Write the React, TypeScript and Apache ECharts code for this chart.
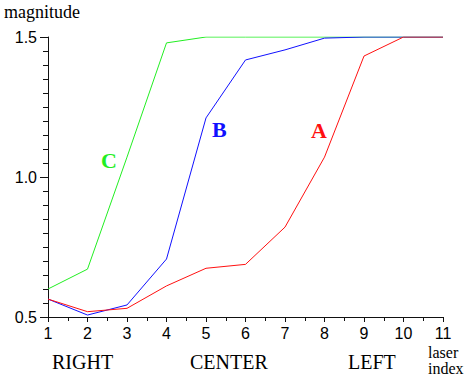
import React, { useEffect, useRef } from "react";
import * as echarts from "echarts";

const laserIndex = [1, 2, 3, 4, 5, 6, 7, 8, 9, 10, 11];
const seriesA = [0.564, 0.519, 0.531, 0.611, 0.674, 0.688, 0.821, 1.071, 1.432, 1.5, 1.5];
const seriesB = [0.564, 0.507, 0.543, 0.707, 1.211, 1.418, 1.454, 1.496, 1.5, 1.5, 1.5];
const seriesC = [0.6, 0.671, 1.071, 1.479, 1.5, 1.5, 1.5, 1.5, 1.5, 1.5, 1.5];
const seriesNames = ["A", "B", "C"];
const seriesColors = ["#ff1010", "#1010ff", "#22ee22"];
const positionLabels = ["RIGHT", "CENTER", "LEFT"];

export default function App() {
  const ref = useRef<HTMLDivElement>(null);
  useEffect(() => {
    if (!ref.current) return;
    const chart = echarts.init(ref.current, null, { renderer: "svg" });
    const allData = [seriesA, seriesB, seriesC];
    const serif = "'Liberation Serif', 'DejaVu Serif', serif";
    const sans = "'Liberation Sans', Arial, sans-serif";
    chart.setOption({
      animation: false,
      backgroundColor: "#ffffff",
      grid: { left: 48, top: 37, width: 395, height: 280, containLabel: false },
      xAxis: {
        type: "value",
        min: 1,
        max: 11,
        interval: 1,
        axisLine: { show: true, lineStyle: { color: "#111", width: 1 } },
        axisTick: { show: true, length: 5, lineStyle: { color: "#111", width: 1 } },
        minorTick: { show: true, splitNumber: 2, length: 4, lineStyle: { color: "#111", width: 1 } },
        splitLine: { show: false },
        axisLabel: { color: "#000", fontFamily: sans, fontSize: 16, margin: 8 },
      },
      yAxis: {
        type: "value",
        min: 0.5,
        max: 1.5,
        interval: 0.5,
        axisLine: { show: true, lineStyle: { color: "#111", width: 1 } },
        axisTick: { show: true, length: 8, lineStyle: { color: "#111", width: 1 } },
        minorTick: { show: true, splitNumber: 10, length: 5, lineStyle: { color: "#111", width: 1 } },
        splitLine: { show: false },
        axisLabel: {
          color: "#000",
          fontFamily: sans,
          fontSize: 16,
          margin: 11,
          formatter: (v: number) => v.toFixed(1),
        },
      },
      series: allData.map((d, i) => ({
        name: seriesNames[i],
        type: "line",
        data: d.map((v, j) => [laserIndex[j], v]),
        symbol: "none",
        lineStyle: { color: seriesColors[i], width: 1 },
        z: 3 - i,
      })),
      graphic: [
        { type: "text", left: 4, top: 3, style: { text: "magnitude", fontSize: 18, fontFamily: serif, fill: "#000" } },
        { type: "text", left: 52, top: 352, style: { text: positionLabels[0], fontSize: 20, fontFamily: serif, fill: "#000" } },
        { type: "text", left: 190, top: 352, style: { text: positionLabels[1], fontSize: 20, fontFamily: serif, fill: "#000" } },
        { type: "text", left: 348, top: 352, style: { text: positionLabels[2], fontSize: 20, fontFamily: serif, fill: "#000" } },
        { type: "text", left: 428, top: 344, style: { text: "laser", fontSize: 16, fontFamily: serif, fill: "#000" } },
        { type: "text", left: 428, top: 360, style: { text: "index", fontSize: 16, fontFamily: serif, fill: "#000" } },
        { type: "text", left: 311, top: 119, style: { text: seriesNames[0], fontSize: 22, fontWeight: "bold", fontFamily: serif, fill: seriesColors[0] } },
        { type: "text", left: 212, top: 118, style: { text: seriesNames[1], fontSize: 22, fontWeight: "bold", fontFamily: serif, fill: seriesColors[1] } },
        { type: "text", left: 101, top: 149, style: { text: seriesNames[2], fontSize: 22, fontWeight: "bold", fontFamily: serif, fill: seriesColors[2] } },
      ],
    });
    return () => chart.dispose();
  }, []);
  return <div ref={ref} style={{ width: 472, height: 380, position: "absolute", left: 0, top: 0 }} />;
}
